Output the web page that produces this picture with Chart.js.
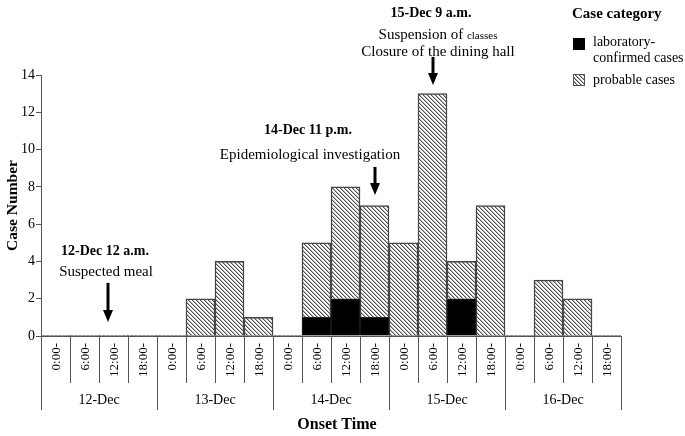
<!DOCTYPE html>
<html>
<head>
<meta charset="utf-8">
<script src="https://cdn.jsdelivr.net/npm/chart.js@4/dist/chart.umd.min.js"></script>
<style>
  html, body { margin: 0; padding: 0; background: #fff; }
  #wrap { width: 685px; height: 436px; }
</style>
</head>
<body>
<div id="wrap"><canvas id="epiCurve" width="685" height="436"></canvas></div>
<script>
// Onset data, 6-hour slots per day
const days = ['12-Dec', '13-Dec', '14-Dec', '15-Dec', '16-Dec'];
const slotLabels = ['0:00-', '6:00-', '12:00-', '18:00-'];
const confirmedCases = [0, 0, 0, 0, 0, 0, 0, 0, 0, 1, 2, 1, 0, 0, 2, 0, 0, 0, 0, 0];
const probableCases = [0, 0, 0, 0, 0, 2, 4, 1, 0, 4, 6, 6, 5, 13, 2, 7, 0, 3, 2, 0];
const yTicks = [0, 2, 4, 6, 8, 10, 12, 14];

// events: slot index (fractional), arrow top / tip in case units
const events = [
    { at: 1.8, top: 2.85, tip: 0.75, title: '12-Dec 12 a.m.', lines: ['Suspected meal'] },
    { at: 11, top: 9.07, tip: 7.56, title: '14-Dec 11 p.m.', lines: ['Epidemiological investigation'] },
    { at: 13, top: 14.97, tip: 13.47, title: '15-Dec 9 a.m.', lines: ['Suspension of |classes', 'Closure of the dining hall'] }
];
// text placement relative to each arrow: [dx title, dx lines, gap above arrow, title rise]
const eventText = [[-3, -2, 11, 20], [-67, -65, 12, 25], [-2, 5, 5, 22]];

const categories = [];
days.forEach(d => slotLabels.forEach(s => categories.push(d + ' ' + s)));

const SERIF = "'Liberation Serif', 'Times New Roman', serif";

function makeHatch() {
    const n = 4;
    const c = document.createElement('canvas');
    c.width = n; c.height = n;
    const g = c.getContext('2d');
    g.fillStyle = '#fff';
    g.fillRect(0, 0, n, n);
    for (let i = 0; i < n; i++) {
        g.fillStyle = '#505050';
        g.fillRect(i, i, 1, 1);
        g.fillStyle = '#b4b4b4';
        g.fillRect((i + 1) % n, i, 1, 1);
    }
    return c;
}
const hatch = document.getElementById('epiCurve').getContext('2d').createPattern(makeHatch(), 'repeat');

function arrow(ctx, x, yTop, yTip) {
    const head = 12;
    ctx.save();
    ctx.strokeStyle = '#000';
    ctx.fillStyle = '#000';
    ctx.lineWidth = 3;
    ctx.beginPath();
    ctx.moveTo(x, yTop);
    ctx.lineTo(x, yTip - head + 1);
    ctx.stroke();
    ctx.beginPath();
    ctx.moveTo(x - 5, yTip - head);
    ctx.lineTo(x + 5, yTip - head);
    ctx.lineTo(x, yTip);
    ctx.closePath();
    ctx.fill();
    ctx.restore();
}

const decorPlugin = {
    id: 'decor',
    afterDraw(chart) {
        const { ctx, scales: { x, y } } = chart;
        const base = Math.round(y.getPixelForValue(0));
        ctx.save();

        // slot separators below the axis
        ctx.strokeStyle = '#555';
        ctx.lineWidth = 1;
        for (let i = 0; i <= categories.length; i++) {
            const px = Math.round(x.getPixelForValue(i - 0.5)) + 0.5;
            const len = i % slotLabels.length === 0 ? 74 : 47;
            ctx.beginPath();
            ctx.moveTo(px, base);
            ctx.lineTo(px, base + len);
            ctx.stroke();
        }

        // rotated slot labels
        ctx.fillStyle = '#000';
        ctx.font = '13px ' + SERIF;
        ctx.textAlign = 'right';
        ctx.textBaseline = 'middle';
        categories.forEach((c, i) => {
            const px = x.getPixelForValue(i);
            ctx.save();
            ctx.translate(px + 1, base + 7);
            ctx.rotate(-Math.PI / 2);
            ctx.fillText(slotLabels[i % slotLabels.length], 0, 0);
            ctx.restore();
        });

        // day labels
        ctx.font = '14px ' + SERIF;
        ctx.textAlign = 'center';
        days.forEach((d, k) => {
            ctx.fillText(d, x.getPixelForValue(k * 4 + 1.5), base + 64);
        });

        // axis title
        ctx.font = 'bold 16px ' + SERIF;
        ctx.fillText('Onset Time', 337, 425);

        // event annotations
        events.forEach((ev, k) => {
            const [dxT, dxL, gap, rise] = eventText[k];
            const ax = Math.round(x.getPixelForValue(ev.at));
            const yTop = y.getPixelForValue(ev.top);
            const yTip = y.getPixelForValue(ev.tip);
            arrow(ctx, ax, yTop, yTip);
            const n = ev.lines.length;
            const ty = yTop - gap - (n - 1) * 17;
            ctx.textAlign = 'center';
            ctx.font = 'bold 14px ' + SERIF;
            ctx.fillText(ev.title, ax + dxT, ty - rise);
            ev.lines.forEach((ln, j) => {
                const lx = ax + dxL;
                if (ln.includes('|')) {
                    const [a, b] = ln.split('|');
                    ctx.font = '15px ' + SERIF;
                    const wa = ctx.measureText(a).width;
                    ctx.font = '11px ' + SERIF;
                    const wb = ctx.measureText(b).width;
                    const sx = lx - (wa + wb) / 2;
                    ctx.textAlign = 'left';
                    ctx.font = '15px ' + SERIF;
                    ctx.fillText(a, sx, ty + j * 17);
                    ctx.font = '11px ' + SERIF;
                    ctx.fillText(b, sx + wa, ty + j * 17 + 1);
                    ctx.textAlign = 'center';
                } else {
                    ctx.font = '15px ' + SERIF;
                    ctx.fillText(ln, lx, ty + j * 17);
                }
            });
        });

        // legend
        ctx.textAlign = 'left';
        ctx.font = 'bold 15px ' + SERIF;
        ctx.fillText('Case category', 572, 14);
        ctx.fillStyle = '#000';
        ctx.fillRect(573, 38, 12, 12);
        ctx.fillStyle = hatch;
        ctx.fillRect(573, 74, 12, 12);
        ctx.strokeStyle = '#555';
        ctx.strokeRect(573.5, 74.5, 11, 11);
        ctx.fillStyle = '#000';
        ctx.font = '14px ' + SERIF;
        ctx.fillText('laboratory-', 593, 42);
        ctx.fillText('confirmed cases', 593, 58);
        ctx.fillText('probable cases', 593, 80);

        ctx.restore();
    }
};

new Chart(document.getElementById('epiCurve'), {
    type: 'bar',
    data: {
        labels: categories,
        datasets: [
            {
                label: 'laboratory-confirmed cases',
                data: confirmedCases,
                backgroundColor: '#000',
                borderColor: '#222',
                borderWidth: c => (c.raw > 0 ? 1 : 0)
            },
            {
                label: 'probable cases',
                data: probableCases,
                backgroundColor: hatch,
                borderColor: '#444',
                borderWidth: c => (c.raw > 0 ? 1.5 : 0)
            }
        ]
    },
    options: {
        responsive: false,
        animation: false,
        devicePixelRatio: 1,
        layout: { padding: { top: 75, right: 64, left: 0, bottom: 0 } },
        datasets: { bar: { categoryPercentage: 1, barPercentage: 1 } },
        plugins: { legend: { display: false }, tooltip: { enabled: false } },
        scales: {
            x: {
                stacked: true,
                grid: { display: false },
                border: { display: true, color: '#555', width: 1 },
                ticks: { display: false },
                afterFit: s => { s.height = 100; }
            },
            y: {
                stacked: true,
                min: 0,
                max: 14,
                afterBuildTicks: s => { s.ticks = yTicks.map(v => ({ value: v })); },
                grid: { drawOnChartArea: false, tickLength: 5, color: '#555' },
                border: { display: true, color: '#555', width: 1 },
                ticks: {
                    color: '#000',
                    padding: 1,
                    font: { family: SERIF, size: 14 }
                },
                title: {
                    display: true,
                    text: 'Case Number',
                    color: '#000',
                    padding: { top: 4, bottom: 0 },
                    font: { family: SERIF, size: 15.5, weight: 'bold' }
                },
                afterFit: s => { s.width = 41; }
            }
        }
    },
    plugins: [decorPlugin]
});
</script>
</body>
</html>
